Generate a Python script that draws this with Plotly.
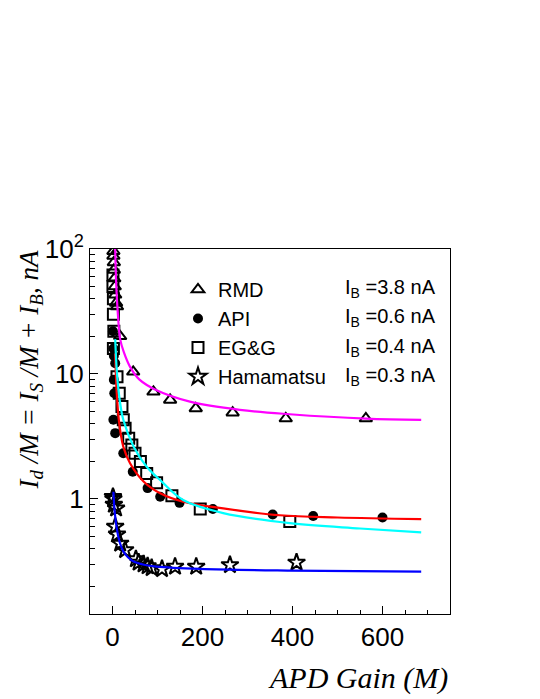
import plotly.graph_objects as go

# measured points (gain M, dark current / M in nA)
rmd_x = [2, 2, 3, 3, 4, 5, 6, 8, 10, 17, 46, 91, 128, 185, 267, 385, 563]
rmd_y = [96, 88, 78, 68, 58, 50, 43, 37, 34.6, 20, 10.4, 7.2, 6.2, 5.3, 4.9, 4.4, 4.4]

api_x = [1, 2, 3, 6, 3, 4, 2, 6, 24, 45, 78, 106, 149, 223, 356, 446, 600]
api_y = [22, 16, 14, 12.2, 9, 7, 4.3, 3.36, 2.32, 1.65, 1.22, 1.04, 0.93, 0.83, 0.75, 0.73, 0.71]

egg_x = [1, 1, 2, 2, 3, 2, 10, 15, 21, 24, 28, 36, 43, 50, 62, 76, 98, 132, 195, 394]
egg_y = [62, 50, 40, 30, 22, 16, 9.5, 7.0, 5.5, 4.3, 3.68, 3.06, 2.7, 2.32, 1.99, 1.6, 1.35, 1.06, 0.83, 0.66]

ham_x = [1, 2, 3, 8, 6, 10, 17, 28, 52, 58, 69, 78, 87, 110, 139, 186, 261, 409]
ham_y = [1.04, 1.0, 0.9, 0.84, 0.6, 0.52, 0.44, 0.39, 0.33, 0.31, 0.30, 0.29, 0.28, 0.275, 0.287, 0.287, 0.296, 0.31]

# fit curves
rmd_fit_x = [6, 8, 12, 17, 25, 39, 60, 98, 172, 283, 394, 563, 686]
rmd_fit_y = [100, 55, 30, 19, 15, 11.4, 9.0, 7.4, 6.0, 5.16, 4.76, 4.39, 4.29]

api_fit_x = [6, 9, 14, 24, 39, 69, 106, 157, 246, 372, 500, 686]
api_fit_y = [14.6, 7.5, 4.3, 2.62, 1.93, 1.38, 1.11, 0.95, 0.84, 0.74, 0.71, 0.69]

egg_fit_x = [6, 10, 16, 24, 47, 76, 110, 157, 246, 394, 550, 686]
egg_fit_y = [19, 10, 6.2, 4.3, 2.62, 1.81, 1.37, 0.98, 0.77, 0.64, 0.58, 0.54]

ham_fit_x = [2, 5, 10, 16, 24, 35, 47, 70, 98, 195, 394, 686]
ham_fit_y = [1.14, 0.78, 0.565, 0.45, 0.38, 0.34, 0.315, 0.297, 0.287, 0.275, 0.267, 0.262]

names = ['RMD', 'API', 'EG&G', 'Hamamatsu']
ib_labels = ['3.8', '0.6', '0.4', '0.3']

fig = go.Figure()

# markers
fig.add_trace(go.Scatter(x=rmd_x, y=rmd_y, mode='markers', name='RMD',
                         marker=dict(symbol='triangle-up-open', size=11, color='black', line=dict(width=2))))
fig.add_trace(go.Scatter(x=api_x, y=api_y, mode='markers', name='API',
                         marker=dict(symbol='circle', size=10, color='black')))
fig.add_trace(go.Scatter(x=egg_x, y=egg_y, mode='markers', name='EG&G',
                         marker=dict(symbol='square-open', size=11, color='black', line=dict(width=2))))
fig.add_trace(go.Scatter(x=ham_x, y=ham_y, mode='markers', name='Hamamatsu',
                         marker=dict(symbol='star-open', size=13, color='black', line=dict(width=2))))

# fit lines on top
for fx, fy, col in [(rmd_fit_x, rmd_fit_y, '#ff00ff'),
                    (api_fit_x, api_fit_y, '#ff0000'),
                    (egg_fit_x, egg_fit_y, '#00ffff'),
                    (ham_fit_x, ham_fit_y, '#0000ff')]:
    fig.add_trace(go.Scatter(x=fx, y=fy, mode='lines', showlegend=False,
                             line=dict(color=col, width=2.2, shape='spline')))

# I_B column next to the legend
for i, ib in enumerate(ib_labels):
    fig.add_annotation(x=(343 - 90) / 360, y=(614 - (288 + 29.5 * i)) / 365,
                       xref='paper', yref='paper', xanchor='left', yanchor='middle',
                       text=f'I<sub>B</sub> ={ib} nA', showarrow=False,
                       font=dict(family='Liberation Sans, Arial', size=20, color='black'))

# axis titles
fig.add_annotation(x=1, y=-0.175, xref='paper', yref='paper', xanchor='right', yanchor='middle',
                   text='<i>APD Gain (M)</i>', showarrow=False,
                   font=dict(family='Liberation Serif, Times New Roman', size=30, color='black'))
fig.add_annotation(x=(30 - 90) / 360, y=1.0, xref='paper', yref='paper', xanchor='center', yanchor='top',
                   textangle=-90, showarrow=False,
                   text='<i>I<sub>d</sub> /M = I<sub>S</sub> /M + I<sub>B</sub>, nA</i>',
                   font=dict(family='Liberation Serif, Times New Roman', size=27, color='black'))

# page body has an 8px margin, so the figure is 8px smaller and margins shifted
fig.update_layout(
    width=532, height=691,
    margin=dict(l=82, r=90, t=241, b=85),
    paper_bgcolor='white', plot_bgcolor='white',
    font=dict(family='Liberation Sans, Arial', size=26, color='black'),
    showlegend=True,
    legend=dict(x=(178 - 90) / 360, y=(614 - 270) / 365, xanchor='left', yanchor='top',
                bgcolor='rgba(0,0,0,0)', font=dict(size=20), traceorder='normal'),
    xaxis=dict(range=[-50, 750], showgrid=False, zeroline=False,
               showline=True, linecolor='black', linewidth=1, mirror=True,
               ticks='inside', ticklen=8, tickcolor='black',
               tickvals=[0, 200, 400, 600],
               minor=dict(ticks='inside', ticklen=4, tickcolor='black',
                          tickvals=[50, 100, 150, 250, 300, 350, 450, 500, 550, 650, 700])),
    yaxis=dict(type='log', range=[-0.921, 2], showgrid=False, zeroline=False,
               showline=True, linecolor='black', linewidth=1, mirror=True,
               ticks='inside', ticklen=8, tickcolor='black',
               tickvals=[1, 10, 100], ticktext=['1', '10', '10<sup>2</sup>'],
               minor=dict(ticks='inside', ticklen=5, tickcolor='black',
                          tickvals=[0.2, 0.3, 0.4, 0.5, 0.6, 0.7, 0.8, 0.9,
                                    2, 3, 4, 5, 6, 7, 8, 9,
                                    20, 30, 40, 50, 60, 70, 80, 90])),
)

fig.write_html("out.html")
